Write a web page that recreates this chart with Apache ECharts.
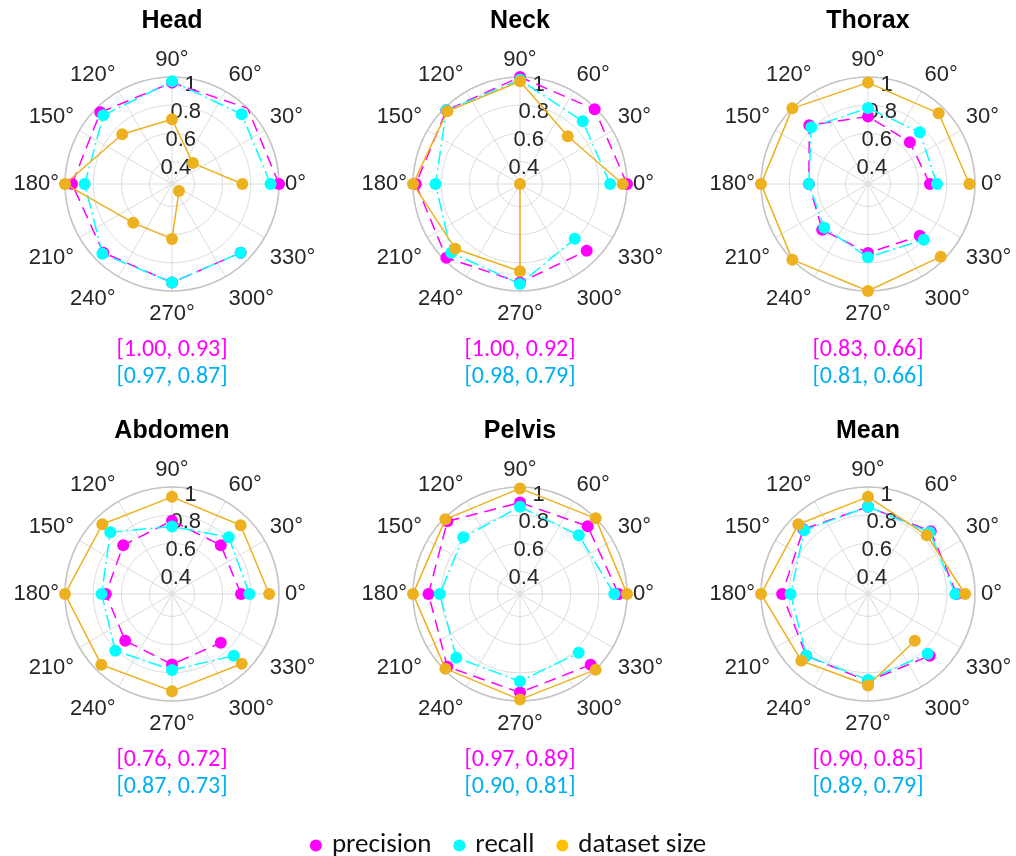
<!DOCTYPE html>
<html>
<head>
<meta charset="utf-8">
<script src="https://cdn.jsdelivr.net/npm/echarts@6/dist/echarts.min.js"></script>
<style>html,body{margin:0;padding:0;background:#fff}#c{width:1016px;height:856px}</style>
</head>
<body>
<div id="c"></div>
<script>
// ---- data ----
const angles = [0, 45, 90, 135, 180, 225, 270, 315];
const ringValues = [0.4, 0.6, 0.8, 1];
const panelNames = ['Head', 'Neck', 'Thorax', 'Abdomen', 'Pelvis', 'Mean'];

const headPrecision = [1.00, 1.00, 0.96, 0.96, 0.95, 0.93, 0.94, 0.93];
const headRecall    = [0.94, 0.94, 0.97, 0.93, 0.86, 0.94, 0.94, 0.93];
const headSize      = [0.74, 0.45, 0.70, 0.74, 1.00, 0.63, 0.63, 0.31];

const neckPrecision = [1.00, 0.99, 1.00, 0.98, 0.98, 0.98, 0.94, 0.91];
const neckRecall    = [0.88, 0.87, 0.98, 0.98, 0.84, 0.93, 0.95, 0.79];
const neckSize      = [0.97, 0.72, 0.97, 0.97, 1.00, 0.89, 0.86, 0.24];

const thoraxPrecision = [0.68, 0.66, 0.72, 0.83, 0.66, 0.70, 0.73, 0.76];
const thoraxRecall    = [0.73, 0.76, 0.78, 0.81, 0.66, 0.68, 0.76, 0.80];
const thoraxSize      = [0.96, 0.95, 0.96, 1.00, 1.00, 1.00, 1.00, 0.97];

const abdomenPrecision = [0.73, 0.73, 0.76, 0.73, 0.71, 0.71, 0.74, 0.73];
const abdomenRecall    = [0.79, 0.81, 0.72, 0.86, 0.74, 0.81, 0.78, 0.86];
const abdomenSize      = [0.93, 0.93, 0.93, 0.94, 1.00, 0.95, 0.93, 0.94];

const pelvisPrecision = [0.94, 0.92, 0.89, 0.97, 0.89, 0.97, 0.94, 0.95];
const pelvisRecall    = [0.91, 0.83, 0.86, 0.81, 0.81, 0.88, 0.86, 0.83];
const pelvisSize      = [1.00, 1.00, 0.99, 0.99, 1.00, 0.99, 0.99, 1.00];

const meanPrecision = [0.87, 0.87, 0.86, 0.89, 0.85, 0.86, 0.86, 0.86];
const meanRecall    = [0.86, 0.86, 0.86, 0.88, 0.79, 0.86, 0.85, 0.84];
const meanSize      = [0.93, 0.83, 0.93, 0.94, 1.00, 0.91, 0.89, 0.71];

const precisionRanges = ['[1.00, 0.93]', '[1.00, 0.92]', '[0.83, 0.66]', '[0.76, 0.72]', '[0.97, 0.89]', '[0.90, 0.85]'];
const recallRanges    = ['[0.97, 0.87]', '[0.98, 0.79]', '[0.81, 0.66]', '[0.87, 0.73]', '[0.90, 0.81]', '[0.89, 0.79]'];

const precisionSets = [headPrecision, neckPrecision, thoraxPrecision, abdomenPrecision, pelvisPrecision, meanPrecision];
const recallSets    = [headRecall, neckRecall, thoraxRecall, abdomenRecall, pelvisRecall, meanRecall];
const sizeSets      = [headSize, neckSize, thoraxSize, abdomenSize, pelvisSize, meanSize];

// ---- layout / style ----
const colX = [172, 520, 868];
const rowY = [184, 594];
const R = 107;
const rMin = 0.24;
const C_P = '#FF00FF', C_R = '#00FFFF', C_S = '#EDB120';
const gridColor = '#dcdcdc';
const axisFont = "'Liberation Sans', Arial, sans-serif";
const textFont = "Carlito, Lato, sans-serif";

const polar = [], angleAxis = [], radiusAxis = [], series = [], title = [];
panelNames.forEach((name, i) => {
  const cx = colX[i % 3], cy = rowY[Math.floor(i / 3)];
  polar.push({ center: [cx, cy], radius: R });
  angleAxis.push({
    polarIndex: i, type: 'value', min: 0, max: 360, interval: 30,
    startAngle: 0, clockwise: false,
    axisLine: { lineStyle: { color: '#c4c4c4', width: 1.5 } },
    axisTick: { show: false },
    axisLabel: { fontSize: 22, color: '#262626', fontFamily: axisFont, margin: 6, padding: [6, 0, 0, 0],
      formatter: v => (v === 360 ? '' : v + '°') },
    splitLine: { lineStyle: { color: gridColor, width: 1 } }
  });
  radiusAxis.push({
    polarIndex: i, type: 'value', min: rMin, max: 1,
    axisLine: { show: false },
    axisTick: { show: false, customValues: ringValues },
    axisLabel: { show: false },
    splitLine: { show: true, lineStyle: { color: gridColor, width: 1 } }
  });
  const mk = (nm, vals, col, dash, z) => ({
    type: 'line', coordinateSystem: 'polar', polarIndex: i, name: nm,
    data: angles.map((a, k) => [vals[k], a]),
    symbol: 'circle', symbolSize: 12, z: z,
    itemStyle: { color: col },
    lineStyle: { color: col, width: 1.5, type: dash },
    emphasis: { disabled: true }
  });
  series.push(mk('precision', precisionSets[i], C_P, [12, 7], 2));
  series.push(mk('recall', recallSets[i], C_R, [14, 4, 2, 4], 3));
  series.push(mk('dataset size', sizeSets[i], C_S, 'solid', 4));

  title.push({ text: name, left: cx, top: cy - 163, textAlign: 'center', textVerticalAlign: 'middle', padding: 0,
    textStyle: { fontSize: 25, fontWeight: 'bold', color: '#000', fontFamily: axisFont } });
  title.push({ text: precisionRanges[i], left: cx, top: cy + 166, textAlign: 'center', textVerticalAlign: 'middle', padding: 0,
    textStyle: { fontSize: 24, fontWeight: 'normal', color: '#FF00FF', fontFamily: textFont } });
  title.push({ text: recallRanges[i], left: cx, top: cy + 193, textAlign: 'center', textVerticalAlign: 'middle', padding: 0,
    textStyle: { fontSize: 24, fontWeight: 'normal', color: '#00B0F0', fontFamily: textFont } });
});
// label overlay polars (radial tick labels along 80°), nudged slightly down like the reference
panelNames.forEach((name, i) => {
  const cx = colX[i % 3], cy = rowY[Math.floor(i / 3)];
  polar.push({ center: [cx, cy + 6], radius: R });
  angleAxis.push({ polarIndex: 6 + i, type: 'value', min: 0, max: 360, startAngle: 80, clockwise: false, show: false });
  radiusAxis.push({
    polarIndex: 6 + i, type: 'value', min: rMin, max: 1,
    axisLine: { show: false }, axisTick: { show: false }, splitLine: { show: false },
    axisLabel: { customValues: ringValues, margin: 0, align: 'center', verticalAlign: 'middle',
      fontSize: 22, color: '#262626', fontFamily: axisFont }
  });
});

const chart = echarts.init(document.getElementById('c'), null, { renderer: 'canvas' });
chart.setOption({
  backgroundColor: '#fff',
  animation: false,
  title, polar, angleAxis, radiusAxis, series,
  legend: {
    left: 'center', top: 827, icon: 'circle', itemWidth: 12, itemHeight: 12, itemGap: 22,
    formatter: n => '{t|' + n + '}',
    textStyle: { fontSize: 27, color: '#111', fontFamily: textFont,
      rich: { t: { fontSize: 27, color: '#111', fontFamily: textFont, padding: [0, 0, 0, 5] } } },
    data: [
      { name: 'precision', itemStyle: { color: '#FF00FF' } },
      { name: 'recall', itemStyle: { color: '#00FFFF' } },
      { name: 'dataset size', itemStyle: { color: '#FFC000' } }
    ]
  }
});
</script>
</body>
</html>
